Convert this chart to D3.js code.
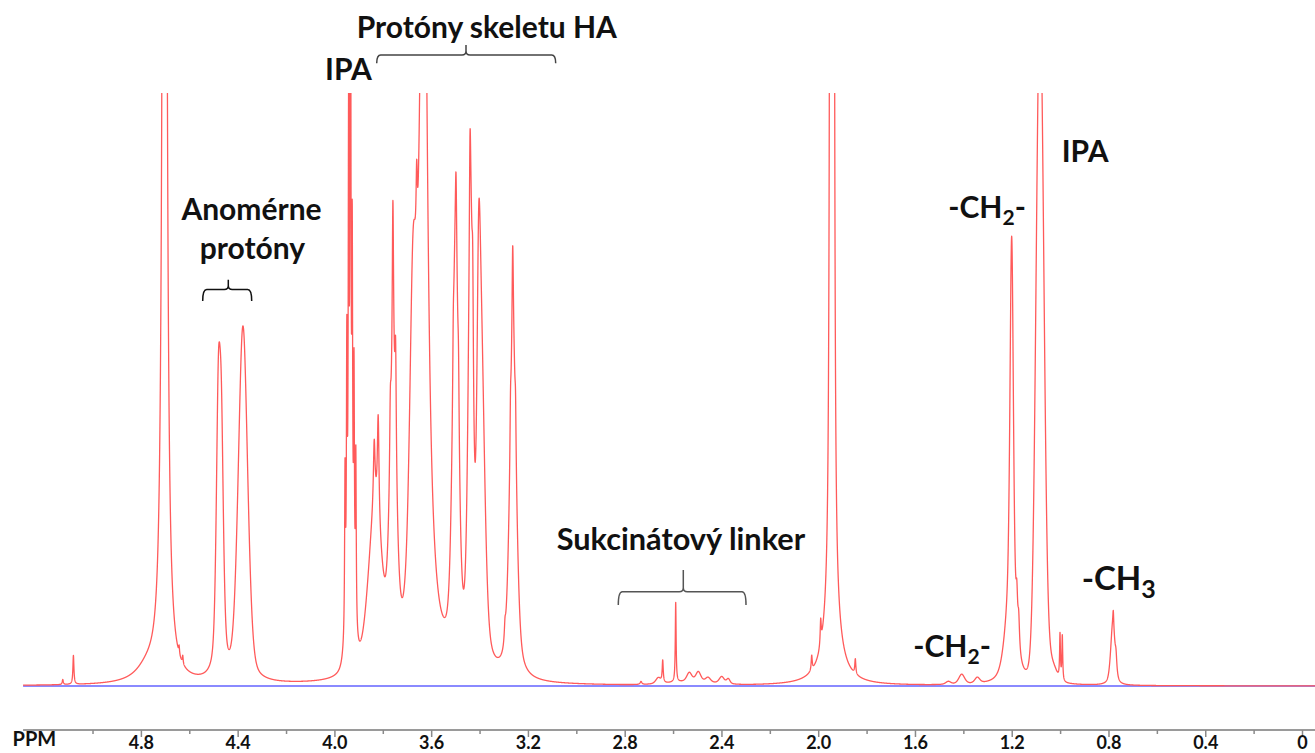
<!DOCTYPE html>
<html><head><meta charset="utf-8">
<script src="https://cdn.jsdelivr.net/npm/d3@7"></script>
<style>
html,body{margin:0;padding:0;background:#fff;}
svg{display:block;}
</style></head><body>
<svg id="chart" width="1315" height="753"></svg>
<script>
// ---- Data: 1H NMR peak list ----
// chemical shift (ppm)
const peakPpm = [5.123, 5.079, 4.771, 4.702, 4.642, 4.627, 4.480, 4.467, 4.378,
  3.9561, 3.9487, 3.9413, 3.9338, 3.9264, 3.9190, 3.9115, 3.9343,
  3.8321, 3.8355, 3.8190, 3.7574, 3.7689, 3.7582, 3.7470,
  3.6317, 3.6751, 3.6598,
  3.4994, 3.4973, 3.5085, 3.4870, 3.4374, 3.4394, 3.4283, 3.4035, 3.3919,
  3.2615, 3.2629, 3.2720, 3.2513, 3.2948,
  2.7325, 2.661, 2.6428, 2.5891, 2.5329, 2.4957, 2.4556, 2.3989, 2.3717, 2.530,
  1.9492, 1.9367, 1.9430, 2.0269, 1.9897, 1.8466,
  1.4622, 1.4068, 1.3423,
  1.2001, 1.2071, 1.1790, 1.1712,
  1.0831, 1.0831, 1.0335, 1.0004, 0.9909,
  0.7821, 0.7801, 0.7689];
// peak height (intensity, a.u.)
const peakHeight = [5, 29, 14, 2667, 8, 8, 245, 205, 355,
  160, 260, 450, 900, 330, 230, 170, 60,
  160, 65, 105, 240, 65, 190, 110,
  900, 300, 80,
  400, 80, 40, 60, 410, 100, 110, 240, 290,
  320, 110, 40, 40, 15,
  3, 6, 22, 80, 9, 10, 5, 7, 5, 3,
  1500, 1500, 80, 15, 25, 15,
  3, 10, 6,
  380, 70, 40, 30,
  640, 40, 15, 45, 45,
  60, 15, 15];
// half width at half maximum (ppm)
const peakWidth = [0.0025, 0.0025, 0.058, 0.0062, 0.002, 0.002, 0.0103, 0.0103, 0.0227,
  0.002, 0.002, 0.002, 0.002, 0.002, 0.002, 0.002, 0.0186,
  0.0331, 0.0041, 0.0041, 0.0165, 0.0033, 0.0033, 0.0033,
  0.0186, 0.0165, 0.0033,
  0.0145, 0.0033, 0.0025, 0.0033, 0.0116, 0.0033, 0.0033, 0.0083, 0.0165,
  0.0165, 0.0033, 0.0025, 0.0025, 0.0033,
  0.0041, 0.0124, 0.0025, 0.002, 0.0124, 0.0124, 0.0124, 0.0124, 0.0083, 0.103,
  0.0033, 0.0033, 0.0331, 0.0025, 0.0025, 0.0025,
  0.0124, 0.0145, 0.0124,
  0.0083, 0.0248, 0.0041, 0.0041,
  0.0186, 0.0248, 0.0207, 0.002, 0.002,
  0.0103, 0.002, 0.0041];
// Lorentzian fraction of the line shape (1 = Lorentzian, 0 = Gaussian)
const peakLorentz = [1, 1, 1, 1, 1, 1, 0.5, 0.5, 0.3,
  1, 1, 1, 1, 1, 1, 1, 0.3,
  0.4, 1, 1, 0.4, 1, 1, 1,
  1, 0.5, 1,
  0.5, 1, 1, 1, 0.5, 1, 1, 0.5, 0.5,
  0.5, 1, 1, 1, 1,
  1, 0.5, 1, 1, 0.5, 0.5, 0.5, 0.5, 0.5, 0,
  1, 1, 1, 1, 1, 1,
  0.5, 0.5, 0.5,
  0.5, 0.5, 1, 1,
  0, 1, 0, 1, 1,
  0.5, 1, 1];

const majorTicks = [4.8, 4.4, 4.0, 3.6, 3.2, 2.8, 2.4, 2.0, 1.6, 1.2, 0.8, 0.4, 0];
const tickLabels = ["4.8", "4.4", "4.0", "3.6", "3.2", "2.8", "2.4", "2.0", "1.6", "1.2", "0.8", "0.4", "0"];
const minorTicks = [5.0, 4.6, 4.2, 3.8, 3.4, 3.0, 2.6, 2.2, 1.8, 1.4, 1.0, 0.6, 0.2];
const axisTitle = "PPM";
const ppmRange = [5.287, -0.054];

// ---- Layout ----
const W = 1315, H = 753;
const svg = d3.select("#chart");
const FONT = "Lato, 'Open Sans', 'DejaVu Sans', sans-serif";

const x = d3.scaleLinear().domain([4.8, 0]).range([140.9, 1302]);
const y = d3.scaleLinear().domain([0, 600]).range([686, 86]);

// spectrum from the peak list
const ln2 = Math.LN2;
function intensity(p) {
  let s = 0;
  for (let i = 0; i < peakPpm.length; i++) {
    const u = (p - peakPpm[i]) / peakWidth[i];
    const u2 = u * u;
    if (u2 > 4e6) continue;
    const e = peakLorentz[i];
    s += peakHeight[i] * (e / (1 + u2) + (1 - e) * Math.exp(-ln2 * u2));
  }
  return s;
}
const step = 0.0004;
const spectrum = [];
for (let p = ppmRange[0]; p >= ppmRange[1]; p -= step) spectrum.push([p, intensity(p)]);

svg.append("defs").append("clipPath").attr("id", "plotclip")
  .append("rect").attr("x", 0).attr("y", 93).attr("width", W).attr("height", H - 93);

// blue baseline
svg.append("line")
  .attr("x1", x(ppmRange[0])).attr("x2", x(ppmRange[1]))
  .attr("y1", y(0)).attr("y2", y(0))
  .attr("stroke", "#8a8aff").attr("stroke-width", 2);

// red spectrum
svg.append("path")
  .datum(spectrum)
  .attr("clip-path", "url(#plotclip)")
  .attr("fill", "none")
  .attr("stroke", "#ff5a5a")
  .attr("stroke-width", 1.3)
  .attr("stroke-linejoin", "round")
  .attr("d", d3.line().x(d => x(d[0])).y(d => y(d[1])));

// ---- Axis ----
const axisY = 730;
const gAxis = svg.append("g").attr("transform", `translate(0,${axisY})`);
gAxis.append("line")
  .attr("x1", x(ppmRange[0])).attr("x2", x(ppmRange[1]))
  .attr("stroke", "#9a9a9a").attr("stroke-width", 2);
const gMinor = gAxis.append("g").call(d3.axisBottom(x).tickValues(minorTicks).tickSize(4).tickFormat(""));
const gMajor = gAxis.append("g").call(d3.axisBottom(x).tickValues(majorTicks).tickSize(7)
  .tickFormat((d, i) => tickLabels[i]));
[gMinor, gMajor].forEach(g => {
  g.select(".domain").remove();
  g.selectAll(".tick line").attr("stroke", "#8a8a8a").attr("stroke-width", 1.5);
});
gMajor.selectAll(".tick text")
  .attr("y", 19).attr("dy", 0)
  .attr("font-family", FONT).attr("font-weight", 700).attr("font-size", 18)
  .attr("fill", "#111");
gAxis.append("text").text(axisTitle)
  .attr("x", 12.6).attr("y", 16)
  .attr("font-family", FONT).attr("font-weight", 700).attr("font-size", 20).attr("fill", "#111");

// ---- Annotations ----
function label(txt, xx, yy, size, anchor) {
  return svg.append("text").text(txt)
    .attr("x", xx).attr("y", yy)
    .attr("text-anchor", anchor || "start")
    .attr("font-family", FONT).attr("font-weight", 700).attr("font-size", size).attr("fill", "#111");
}
function subLabel(main, sub, tail, xx, yy, size, subSize, shift) {
  const t = svg.append("text").attr("x", xx).attr("y", yy)
    .attr("font-family", FONT).attr("font-weight", 700).attr("font-size", size).attr("fill", "#111");
  t.append("tspan").text(main);
  t.append("tspan").text(sub).attr("font-size", subSize).attr("dy", shift);
  if (tail) t.append("tspan").text(tail).attr("dy", -shift);
  return t;
}
function brace(x1, x2, tip, yEnd, yLine, yTip, color) {
  const r = 4;
  const p = `M${x1},${yEnd} Q${x1},${yLine} ${x1 + r},${yLine} H${tip - r} Q${tip},${yLine} ${tip},${yLine - r} L${tip},${yTip}` +
            ` M${tip},${yLine - r} Q${tip},${yLine} ${tip + r},${yLine} H${x2 - r} Q${x2},${yLine} ${x2},${yEnd}`;
  svg.append("path").attr("d", p).attr("fill", "none").attr("stroke", color).attr("stroke-width", 1.5);
}

label("Protóny skeletu HA", 356.7, 38.3, 30);
brace(376.7, 555.7, 466, 63.3, 55, 45, "#444");
label("IPA", 325, 80, 30);
label("Anomérne", 251.5, 220, 30, "middle");
label("protóny", 252.5, 259, 30, "middle");
brace(202.7, 251.7, 228.3, 301, 289.6, 279.7, "#111");
label("Sukcinátový linker", 556.7, 550, 30.7);
brace(618.3, 746, 683.3, 605, 591.7, 570, "#555");
subLabel("-CH", "2", "-", 948.3, 218.3, 30, 21, 7);
label("IPA", 1061.7, 161.7, 30);
subLabel("-CH", "3", "", 1081.7, 590, 33, 25, 8);
subLabel("-CH", "2", "-", 913.3, 657, 30, 21, 7);
</script>
</body></html>
